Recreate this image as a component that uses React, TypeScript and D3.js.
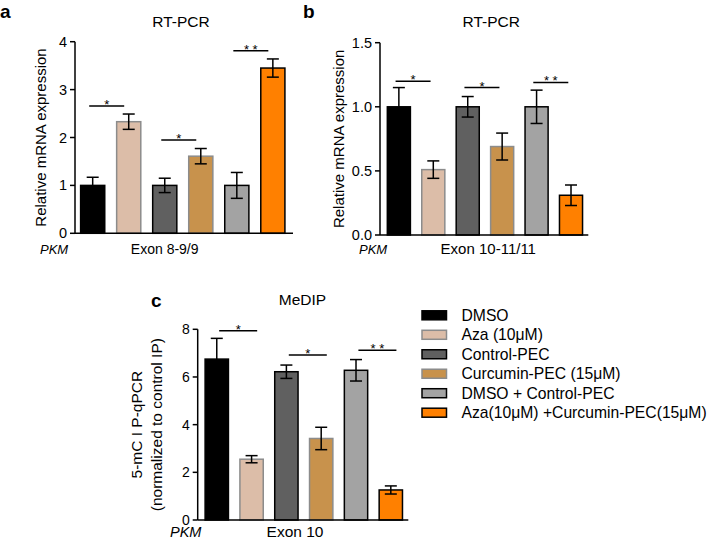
import React from "react";
import * as d3 from "d3";

// ---- data ----
const groups = [
  "DMSO",
  "Aza (10μM)",
  "Control-PEC",
  "Curcumin-PEC (15μM)",
  "DMSO + Control-PEC",
  "Aza(10μM) +Curcumin-PEC(15μM)",
];
const rtA = [1.0, 2.33, 1.0, 1.61, 1.0, 3.45];
const rtAErr = [0.17, 0.16, 0.15, 0.16, 0.27, 0.19];
const rtB = [1.0, 0.51, 1.0, 0.69, 1.0, 0.31];
const rtBErr = [0.15, 0.068, 0.08, 0.105, 0.13, 0.08];
const medip = [6.75, 2.55, 6.22, 3.42, 6.28, 1.26];
const medipErr = [0.87, 0.15, 0.28, 0.47, 0.45, 0.17];
const sigPairs = [
  [0, 1],
  [2, 3],
  [4, 5],
];
const sigLabels = ["*", "*", "* *"];
const sigA = [2.66, 1.95, 3.81];
const sigB = [1.2, 1.15, 1.19];
const sigC = [7.94, 6.92, 7.12];
const ticksA = [0, 1, 2, 3, 4];
const ticksB = [0, 0.5, 1.0, 1.5];
const ticksC = [0, 2, 4, 6, 8];

// ---- styles ----
const fills = ["#000000", "#dcbda8", "#606060", "#c8924c", "#a3a3a3", "#ff8000"];
const strokes = ["#000000", "#8c8c8c", "#000000", "#8c8c8c", "#000000", "#000000"];
const FONT = "'Liberation Sans', Arial, Helvetica, sans-serif";

type Cfg = {
  values: number[];
  errs: number[];
  sig: number[];
  ticks: number[];
  fmt: (n: number) => string;
  yMax: number;
  axisX: number;
  xEnd: number;
  y0: number;
  yTop: number;
  align: number;
  shift: number;
  sigLen: number;
  title: string;
  titleX: number;
  titleY: number;
  letter: string;
  letterX: number;
  letterY: number;
  ylabel: string[];
  ylabelX: number[];
  ylabelFs: number;
  pkmX: number;
  pkmY: number;
  pkmFs: number;
  exon: string;
  exonX: number;
  bottomY: number;
  bottomFs: number;
  tickFs: number;
};

function Panel({ c }: { c: Cfg }) {
  const x = d3
    .scaleBand<number>()
    .domain(d3.range(c.values.length))
    .range([c.axisX, c.xEnd])
    .paddingInner(0.33)
    .paddingOuter(0.19)
    .align(c.align);
  const y = d3.scaleLinear().domain([0, c.yMax]).range([c.y0, c.yTop]);
  const bw = x.bandwidth();
  const cap = 6;
  return (
    <g fontFamily={FONT}>
      <text x={c.letterX} y={c.letterY} fontSize={19} fontWeight="bold">
        {c.letter}
      </text>
      <text x={c.titleX} y={c.titleY} fontSize={15.5} textAnchor="middle">
        {c.title}
      </text>
      {c.ylabel.map((t, i) => (
        <text
          key={i}
          transform={`translate(${c.ylabelX[i]},${(c.y0 + c.yTop) / 2}) rotate(-90)`}
          textAnchor="middle"
          dominantBaseline="central"
          fontSize={c.ylabelFs}
        >
          {t}
        </text>
      ))}
      {c.values.map((v, i) => (
        <rect
          key={"b" + i}
          x={x(i)!}
          y={y(v)}
          width={bw}
          height={c.y0 - y(v)}
          fill={fills[i]}
          stroke={strokes[i]}
          strokeWidth={1.5}
        />
      ))}
      {c.values.map((v, i) => {
        const cx = x(i)! + bw / 2;
        const hi = y(v + c.errs[i]);
        const lo = y(v - c.errs[i]);
        return (
          <g key={"e" + i} stroke="#000" strokeWidth={1.5}>
            <line x1={cx} x2={cx} y1={hi} y2={lo} />
            <line x1={cx - cap} x2={cx + cap} y1={hi} y2={hi} />
            <line x1={cx - cap} x2={cx + cap} y1={lo} y2={lo} />
          </g>
        );
      })}
      <line x1={c.axisX} x2={c.axisX} y1={c.yTop} y2={c.y0} stroke="#000" strokeWidth={1.5} />
      <line x1={c.axisX} x2={c.xEnd} y1={c.y0} y2={c.y0} stroke="#000" strokeWidth={1.5} />
      {c.ticks.map((t, i) => (
        <g key={"t" + i}>
          <line x1={c.axisX - 5} x2={c.axisX} y1={y(t)} y2={y(t)} stroke="#000" strokeWidth={1.5} />
          <text
            x={c.axisX - 8}
            y={y(t)}
            textAnchor="end"
            dominantBaseline="central"
            fontSize={c.tickFs}
          >
            {c.fmt(t)}
          </text>
        </g>
      ))}
      {sigPairs.map(([a, b], i) => {
        const mid = (x(a)! + x(b)! + bw) / 2 + c.shift;
        const ly = y(c.sig[i]);
        return (
          <g key={"s" + i}>
            <line
              x1={mid - c.sigLen / 2}
              x2={mid + c.sigLen / 2}
              y1={ly}
              y2={ly}
              stroke="#000"
              strokeWidth={1.5}
            />
            <text x={mid} y={ly + 3} textAnchor="middle" fontSize={13}>
              {sigLabels[i]}
            </text>
          </g>
        );
      })}
      <text x={c.pkmX} y={c.pkmY} fontSize={c.pkmFs} fontStyle="italic">
        PKM
      </text>
      <text x={c.exonX} y={c.bottomY} fontSize={c.bottomFs} textAnchor="middle">
        {c.exon}
      </text>
    </g>
  );
}

const cfgA: Cfg = {
  values: rtA,
  errs: rtAErr,
  sig: sigA,
  ticks: ticksA,
  fmt: d3.format("d"),
  yMax: 4,
  axisX: 75,
  xEnd: 293,
  y0: 233.3,
  yTop: 41.7,
  align: 0.41,
  shift: -4,
  sigLen: 35,
  title: "RT-PCR",
  titleX: 181,
  titleY: 26.7,
  letter: "a",
  letterX: 0,
  letterY: 17.5,
  ylabel: ["Relative mRNA expression"],
  ylabelX: [40],
  ylabelFs: 15,
  pkmX: 40,
  pkmY: 254,
  pkmFs: 13,
  exon: "Exon 8-9/9",
  exonX: 164.7,
  bottomY: 254,
  bottomFs: 14,
  tickFs: 14.5,
};

const cfgB: Cfg = {
  values: rtB,
  errs: rtBErr,
  sig: sigB,
  ticks: ticksB,
  fmt: d3.format(".1f"),
  yMax: 1.5,
  axisX: 380,
  xEnd: 588.3,
  y0: 235,
  yTop: 42.7,
  align: 0.56,
  shift: -3,
  sigLen: 35,
  title: "RT-PCR",
  titleX: 491.3,
  titleY: 26.7,
  letter: "b",
  letterX: 303,
  letterY: 17.5,
  ylabel: ["Relative mRNA expression"],
  ylabelX: [338.5],
  ylabelFs: 15,
  pkmX: 359,
  pkmY: 254,
  pkmFs: 13,
  exon: "Exon 10-11/11",
  exonX: 488.3,
  bottomY: 254,
  bottomFs: 15,
  tickFs: 14.5,
};

const cfgC: Cfg = {
  values: medip,
  errs: medipErr,
  sig: sigC,
  ticks: ticksC,
  fmt: d3.format("d"),
  yMax: 8,
  axisX: 197.7,
  xEnd: 408.3,
  y0: 520,
  yTop: 329.3,
  align: 0.56,
  shift: 4,
  sigLen: 38,
  title: "MeDIP",
  titleX: 302.5,
  titleY: 305,
  letter: "c",
  letterX: 151,
  letterY: 306.7,
  ylabel: ["5-mC I P-qPCR", "(normalized to control IP)"],
  ylabelX: [136, 156],
  ylabelFs: 15.5,
  pkmX: 170,
  pkmY: 536.8,
  pkmFs: 14.5,
  exon: "Exon 10",
  exonX: 295,
  bottomY: 537,
  bottomFs: 15.5,
  tickFs: 14,
};

function Legend() {
  const rowY = d3.scaleLinear().domain([0, 5]).range([315.3, 412.7]);
  return (
    <g fontFamily={FONT}>
      {groups.map((g, i) => (
        <g key={i}>
          <rect
            x={422}
            y={rowY(i) - 4.5}
            width={24.5}
            height={9}
            fill={fills[i]}
            stroke={strokes[i] === "#000000" ? "#000" : "#8c8c8c"}
            strokeWidth={1.5}
          />
          <text x={461.5} y={rowY(i)} dominantBaseline="central" fontSize={15.7}>
            {g}
          </text>
        </g>
      ))}
    </g>
  );
}

export default function App() {
  return (
    <svg
      width={709}
      height={540}
      style={{ position: "absolute", left: 0, top: 0, background: "#fff" }}
    >
      <rect width={709} height={540} fill="#fff" />
      <Panel c={cfgA} />
      <Panel c={cfgB} />
      <Panel c={cfgC} />
      <Legend />
    </svg>
  );
}
